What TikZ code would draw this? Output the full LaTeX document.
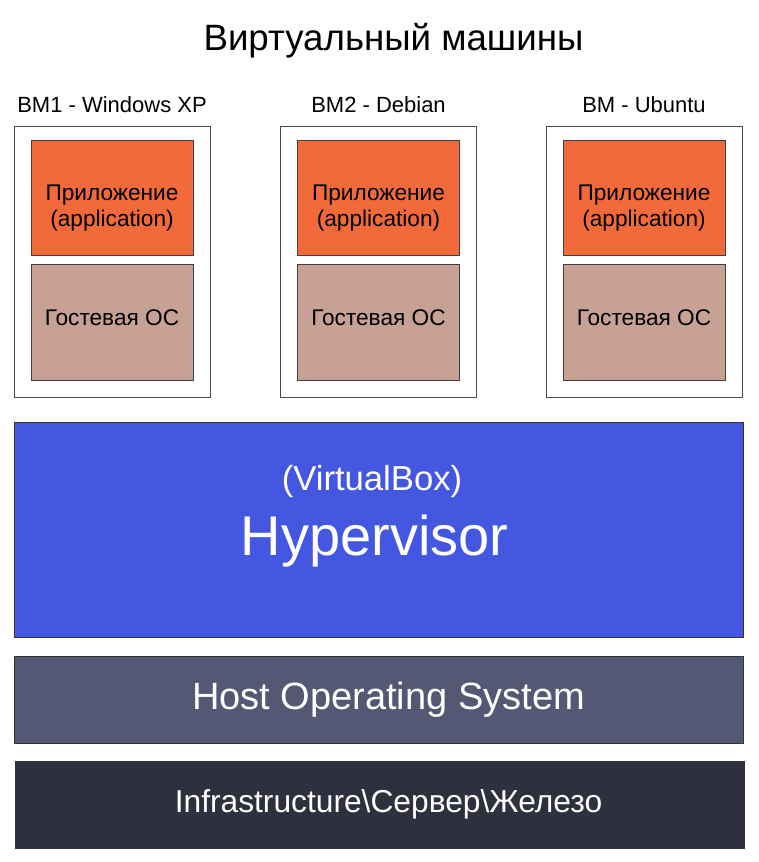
\documentclass[tikz,border=0pt]{standalone}
\usepackage{fontspec}
\setmainfont{Liberation Sans}
\definecolor{appfill}{HTML}{F26A3A}
\definecolor{guestfill}{HTML}{C6A194}
\definecolor{hyperfill}{HTML}{4357E0}
\definecolor{hostfill}{HTML}{545874}
\definecolor{infrafill}{HTML}{2E2F3F}
\newcommand\appstrut{\rule{0pt}{27pt}}
\tikzset{
  vmbox/.style={draw=black!70, line width=.75pt, fill=white, minimum width=147pt, minimum height=202.5pt, inner sep=0pt},
  vmlabel/.style={anchor=base, inner sep=0pt, font=\fontsize{16.5}{19}\selectfont},
  appbox/.style={draw=black!75, line width=.75pt, fill=appfill, minimum width=121.5pt, minimum height=86.5pt, inner sep=0pt, align=center, font=\fontsize{17}{19.5}\selectfont},
  guestbox/.style={draw=black!75, line width=.75pt, fill=guestfill, minimum width=121.5pt, minimum height=86.5pt, inner sep=0pt, text height=12.2pt, text depth=8.4pt, font=\fontsize{17}{19.5}\selectfont},
  layer/.style={draw=black!80, line width=.75pt, minimum width=546.75pt, inner sep=0pt, text=white}
}
\begin{document}
\begin{tikzpicture}[x=.75pt, y=-.75pt]
\useasboundingbox (0,0) rectangle (758,862);
\node[anchor=base, inner sep=0pt, font=\fontsize{27.5}{33}\selectfont] (title) at (393.5,51) {Виртуальный машины};

\foreach \n/\x/\t in {1/112/{BM1 - Windows XP}, 2/378.5/{BM2 - Debian}, 3/644/{BM - Ubuntu}}{
  \node[vmbox] (vm\n) at (\x,262) {};
  \node[vmlabel] (lbl\n) at (\x,113) {\t};
  \node[appbox] (app\n) at (\x,198) {\appstrut Приложение\\(application)};
  \node[guestbox] (os\n) at (\x,322.5) {Гостевая ОС};
}

\node[layer, fill=hyperfill, minimum height=161.25pt] (hyper) at (378.5,529.5) {};
\node[anchor=base, inner sep=0pt, text=white, font=\fontsize{26}{31}\selectfont] (vbox) at (372,490) {(VirtualBox)};
\node[anchor=base, inner sep=0pt, text=white, font=\fontsize{42}{50}\selectfont] (hvname) at (374.5,555) {Hypervisor};
\node[layer, fill=hostfill, minimum height=65.25pt, font=\fontsize{28.5}{34}\selectfont] (host) at (378.5,699.5) {\hspace*{15pt}Host Operating System};
\node[layer, fill=infrafill, minimum height=65.25pt, font=\fontsize{23.8}{28}\selectfont] (infra) at (379.5,804.5) {\hspace*{13.5pt}Infrastructure\textbackslash Сервер\textbackslash Железо};
\end{tikzpicture}
\end{document}
